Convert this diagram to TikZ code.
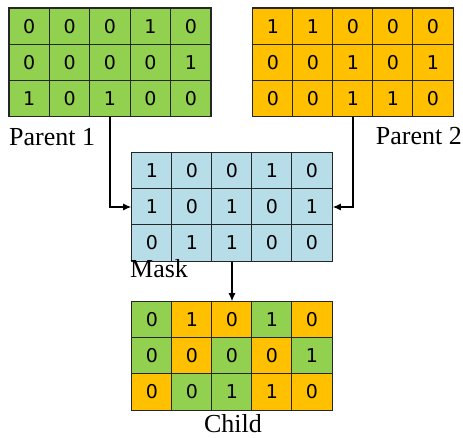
\documentclass[tikz,border=0pt]{standalone}
\usepackage{fontspec}
\setmainfont{Liberation Serif}
\newfontfamily\digitfont{DejaVu Sans}
\usetikzlibrary{arrows.meta}

\definecolor{pgreen}{HTML}{92D050}
\definecolor{porange}{HTML}{FFC000}
\definecolor{mblue}{HTML}{B7DEE8}

\tikzset{
	cell/.style={draw=black!85, line width=1.2pt, minimum width=40.4pt, minimum height=36.3pt, inner sep=0pt, font=\digitfont\fontsize{19}{19}\selectfont},
	lbl/.style={inner sep=0pt, font=\fontsize{26}{26}\selectfont},
	link/.style={line width=1.2pt, -{Latex[length=8pt, width=7pt]}}
}

\begin{document}
\begin{tikzpicture}[x=1pt, y=-1pt]
\useasboundingbox (0,0) rectangle (463,438);

% parents and mask
\foreach \row [count=\r] in {{0,0,0,1,0},{0,0,0,0,1},{1,0,1,0,0}} {
	\foreach \v [count=\c] in \row {
		\node[cell, fill=pgreen] (pa-\r-\c) at ({9+(\c-0.5)*40.4}, {8+(\r-0.5)*36.3}) {\v};
	}
}
\foreach \row [count=\r] in {{1,1,0,0,0},{0,0,1,0,1},{0,0,1,1,0}} {
	\foreach \v [count=\c] in \row {
		\node[cell, fill=porange] (pb-\r-\c) at ({253+(\c-0.5)*40}, {8+(\r-0.5)*36.3}) {\v};
	}
}
\foreach \row [count=\r] in {{1,0,0,1,0},{1,0,1,0,1},{0,1,1,0,0}} {
	\foreach \v [count=\c] in \row {
		\node[cell, fill=mblue] (mk-\r-\c) at ({132+(\c-0.5)*40}, {153+(\r-0.5)*36}) {\v};
	}
}

% child
\foreach \row [count=\r] in {{0/pgreen,1/porange,0/porange,1/pgreen,0/porange},{0/pgreen,0/porange,0/pgreen,0/porange,1/pgreen},{0/porange,0/pgreen,1/pgreen,1/porange,0/porange}} {
	\foreach \v/\col [count=\c] in \row {
		\node[cell, fill=\col] (ch-\r-\c) at ({132+(\c-0.5)*40}, {302+(\r-0.5)*36}) {\v};
	}
}

\node[lbl, anchor=base west] (lp1) at (9, 146) {Parent 1};
\node[lbl, anchor=base east] (lp2) at (462, 145) {Parent 2};
\node[lbl, anchor=base west] (lmk) at (130, 278) {Mask};
\node[lbl, anchor=base] (lch) at (233, 432) {Child};

\draw[link] (pa-3-3.south) |- (mk-2-1.west);
\draw[link] (pb-3-3.south) |- (mk-2-5.east);
\draw[link] (mk-3-3.south) -- (ch-1-3.north);

\end{tikzpicture}
\end{document}
